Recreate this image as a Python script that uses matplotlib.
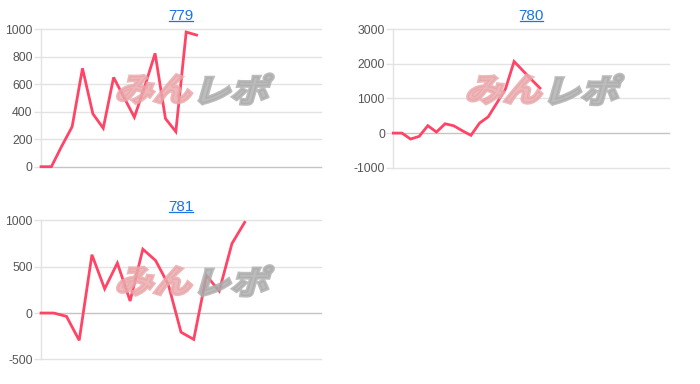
import matplotlib
matplotlib.use("Agg")
import matplotlib.pyplot as plt
from matplotlib.lines import Line2D
from matplotlib.textpath import TextPath
from matplotlib.patches import PathPatch
from matplotlib.font_manager import FontProperties
from matplotlib.transforms import Affine2D, IdentityTransform

# chart data
titles = ["779", "780", "781"]
vals_779 = [0, 0, 150, 291, 716, 385, 280, 650, 505, 360, 583, 825, 350, 255, 980, 958]
vals_780 = [0, 0, -172, -94, 215, 30, 270, 212, 68, -65, 290, 470, 870, 1275, 2070, 1810, 1550, 1300]
vals_781 = [0, 0, -36, -295, 630, 262, 540, 130, 690, 568, 310, -207, -285, 405, 238, 750, 980]
slots = [27, 32, 22]
yticks_779 = [0, 200, 400, 600, 800, 1000]
yticks_780 = [-1000, 0, 1000, 2000, 3000]
yticks_781 = [-500, 0, 500, 1000]

line_color = "#ff4466"
title_color = "#1a73e8"
grid_color = "#e3e3e3"

plt.rcParams["font.family"] = ["Liberation Sans", "DejaVu Sans"]
plt.rcParams["axes.unicode_minus"] = False

fig = plt.figure(figsize=(7, 3.84), dpi=100)
boxes = [
    [0.0586, 0.5659, 0.4, 0.3578],
    [0.5619, 0.5633, 0.3943, 0.3604],
    [0.0586, 0.0643, 0.4, 0.3615],
]
logo_font = FontProperties(family="Noto Sans CJK JP", weight="heavy")

axes = []
for box, title, vals, nslot, yt in zip(boxes, titles,
                                       [vals_779, vals_780, vals_781],
                                       slots,
                                       [yticks_779, yticks_780, yticks_781]):
    ax = fig.add_axes(box)
    ax.set_xlim(0, nslot)
    ax.set_ylim(yt[0], yt[-1])
    ax.set_yticks(yt)
    ax.set_xticks([])
    for v in yt:
        c = "#c4c4c4" if v == 0 else grid_color
        ax.axhline(v, color=c, lw=1, zorder=1, clip_on=False)
    for s in ["top", "right", "bottom"]:
        ax.spines[s].set_visible(False)
    ax.spines["left"].set_color(grid_color)
    ax.spines["left"].set_linewidth(1)
    ax.tick_params(axis="y", length=5, width=1, color=grid_color,
                   labelsize=8.8, labelcolor="#555555", pad=1)

    ax.plot(range(len(vals)), vals, color=line_color, lw=2.0, zorder=3,
            solid_joinstyle="miter", clip_on=False)
    ax.set_title(title, fontsize=11, color=title_color, pad=7)
    axes.append(ax)

# watermark logo, slanted and heavy
for ax in axes:
    cx, cy = ax.transAxes.transform((0.545, 0.57))
    for txt, col, side in [("みん", "#eaa6a9", "right"), ("レポ", "#acacac", "left")]:
        tp = TextPath((0, 0), txt, size=34, prop=logo_font)
        ext = tp.get_extents()
        sx = 1.12
        if side == "right":
            dx = cx - 4 - ext.x1 * sx
        else:
            dx = cx + 5 - ext.x0 * sx
        dy = cy - (ext.y0 + ext.y1) / 2
        tr = Affine2D().scale(sx, 0.95).skew_deg(16, 0).translate(dx, dy) + IdentityTransform()
        fig.add_artist(PathPatch(tp, transform=tr, facecolor=col, edgecolor=col,
                                 linewidth=2.2, alpha=0.8, zorder=2))

# underline the titles like links
fig.canvas.draw()
r = fig.canvas.get_renderer()
for ax in axes:
    bb = ax.title.get_window_extent(r)
    x0, x1 = bb.x0 + 1, bb.x1 - 1
    y = bb.y0 + 2
    fig.add_artist(Line2D([x0 / 700, x1 / 700], [y / 384, y / 384],
                          transform=fig.transFigure, color=title_color, lw=0.9))

fig.savefig("out.png", dpi=100)
